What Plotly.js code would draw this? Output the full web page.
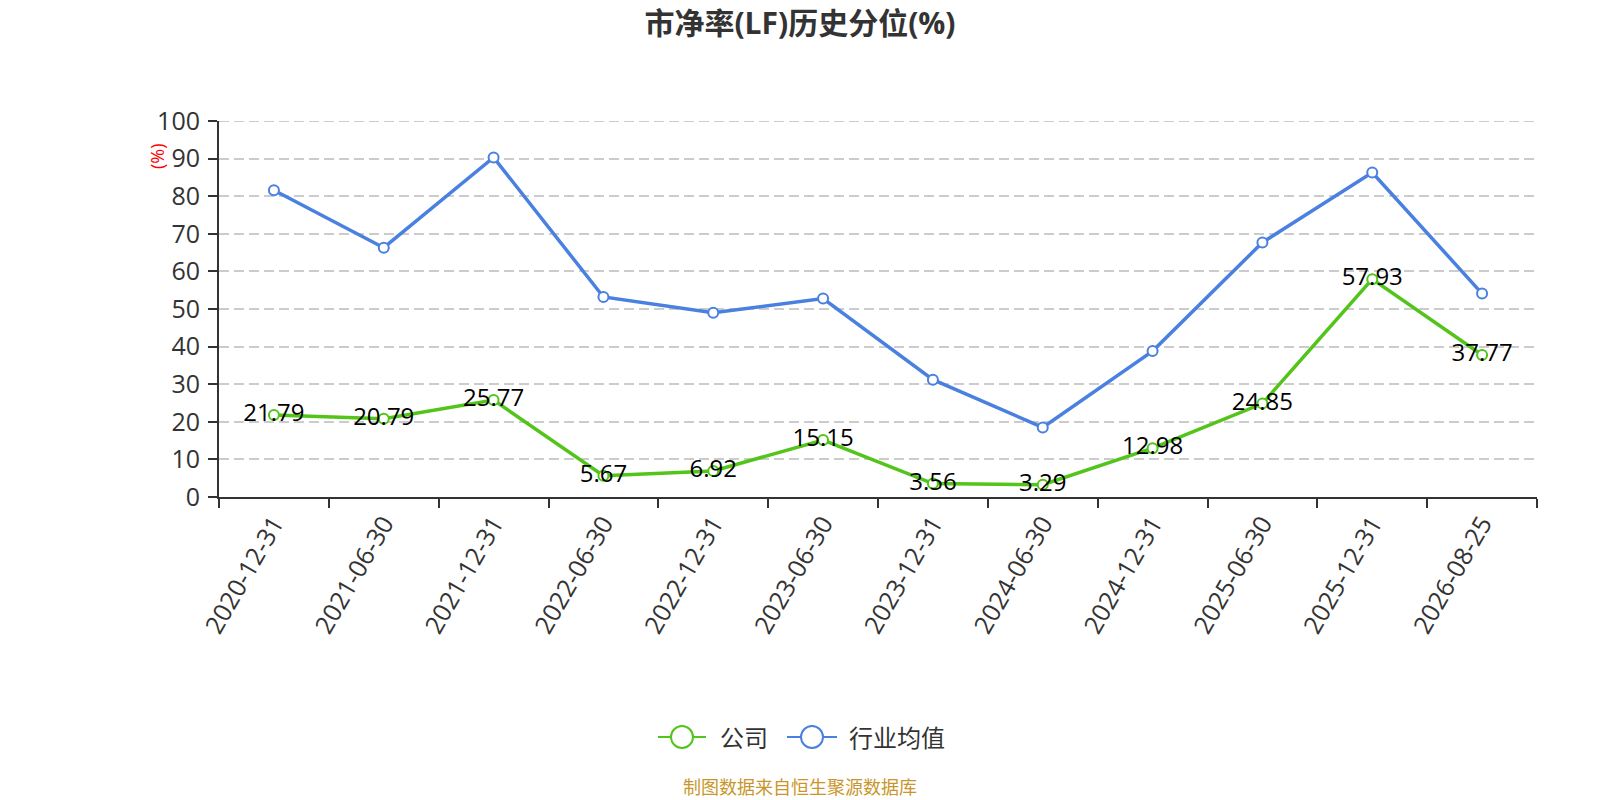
<!DOCTYPE html>
<html>
<head>
<meta charset="utf-8">
<script src="https://cdn.plot.ly/plotly-3.0.1.min.js"></script>
<style>
  html, body { margin: 0; padding: 0; background: #fff; }
  #plot { width: 1600px; height: 800px; }
</style>
</head>
<body>
<div id="plot"></div>
<script>
// reporting dates
var dates = ['2020-12-31', '2021-06-30', '2021-12-31', '2022-06-30', '2022-12-31', '2023-06-30',
             '2023-12-31', '2024-06-30', '2024-12-31', '2025-06-30', '2025-12-31', '2026-08-25']

// company PB percentile
var company = [21.79, 20.79, 25.77, 5.67, 6.92, 15.15, 3.56, 3.29, 12.98, 24.85, 57.93, 37.77]

// industry average
var industry = [81.6, 66.3, 90.3, 53.2, 49.0, 52.8, 31.2, 18.5, 38.8, 67.7, 86.3, 54.1]

var seriesNames = ['公司', '行业均值']
var yTicks = [0, 10, 20, 30, 40, 50, 60, 70, 80, 90, 100]

var fontFamily = '"Open Sans", "Noto Sans CJK SC", sans-serif'
var green = '#52c41a'
var blue = '#4a80df'
var colors = [green, blue]

// plot box in pixels, used to turn pixel spots into paper coords
var W = 1600, H = 800
var box = { l: 219, r: 63, t: 121, b: 303 }
function px(x) { return (x - box.l) / (W - box.l - box.r) }
function py(y) { return (H - box.b - y) / (H - box.t - box.b) }

function draw() {
  try {
    var traceCompany = {
      x: dates,
      y: company,
      type: 'scatter',
      mode: 'lines+markers+text',
      name: seriesNames[0],
      line: { color: green, width: 3.5 },
      marker: { symbol: 'circle', size: 10, color: '#fff', line: { color: green, width: 2 } },
      text: company.map(function (v) { return v.toFixed(2) }),
      textposition: 'middle center',
      textfont: { family: fontFamily, size: 24, color: '#000' },
      showlegend: false,
      hoverinfo: 'x+y'
    }

    var traceIndustry = {
      x: dates,
      y: industry,
      type: 'scatter',
      mode: 'lines+markers',
      name: seriesNames[1],
      line: { color: blue, width: 3.5 },
      marker: { symbol: 'circle', size: 10, color: '#fff', line: { color: blue, width: 2 } },
      showlegend: false,
      hoverinfo: 'x+y'
    }

    // industry first so the company labels sit on top
    var data = [traceIndustry, traceCompany]

    // top gridline at 100 (plotly skips it at the range edge)
    var shapes = [{
      type: 'line', xref: 'paper', yref: 'y',
      x0: 0, x1: 1, y0: 100, y1: 100,
      line: { color: '#cccccc', width: 1.8, dash: '10px,5px' },
      layer: 'below'
    }]

    var annotations = [
      {
        text: '(%)',
        xref: 'paper', yref: 'paper',
        x: px(157), y: py(156),
        xanchor: 'center', yanchor: 'middle',
        textangle: -90,
        showarrow: false,
        font: { family: fontFamily, size: 18, color: '#ff0000' }
      },
      {
        text: '制图数据来自恒生聚源数据库',
        xref: 'paper', yref: 'paper',
        x: px(800), y: py(787),
        xanchor: 'center', yanchor: 'middle',
        showarrow: false,
        font: { family: fontFamily, size: 18, color: '#c9962b' }
      }
    ]

    // legend drawn by hand: line, hollow circle, name
    var legendItems = [
      { x0: 658, x1: 706, tx: 718 },
      { x0: 787, x1: 837, tx: 847 }
    ]
    var legendY = 737
    legendItems.forEach(function (it, i) {
      shapes.push({
        type: 'line', xref: 'paper', yref: 'paper',
        x0: px(it.x0), x1: px(it.x1), y0: py(legendY), y1: py(legendY),
        line: { color: colors[i], width: 2 }
      })
      shapes.push({
        type: 'circle', xref: 'paper', yref: 'paper',
        xsizemode: 'pixel', ysizemode: 'pixel',
        xanchor: px((it.x0 + it.x1) / 2), yanchor: py(legendY),
        x0: -11, x1: 11, y0: -11, y1: 11,
        fillcolor: '#fff',
        line: { color: colors[i], width: 2 }
      })
      annotations.push({
        text: seriesNames[i],
        xref: 'paper', yref: 'paper',
        x: px(it.tx), y: py(legendY),
        xanchor: 'left', yanchor: 'middle',
        showarrow: false,
        font: { family: fontFamily, size: 24, color: '#333' }
      })
    })

    var layout = {
      width: W,
      height: H,
      paper_bgcolor: '#fff',
      plot_bgcolor: '#fff',
      font: { family: fontFamily, color: '#333' },
      margin: box,
      title: {
        text: '<b>市净率(LF)历史分位(%)</b>',
        font: { family: fontFamily, size: 30, color: '#333' },
        x: 0.5, xanchor: 'center',
        yref: 'container', y: 0.971, yanchor: 'middle'
      },
      showlegend: false,
      xaxis: {
        type: 'category',
        range: [-0.5, dates.length - 0.5],
        tickangle: -60,
        tickson: 'boundaries',
        ticks: 'outside',
        ticklen: 9,
        tickwidth: 2,
        tickcolor: '#333',
        showline: true,
        linecolor: '#333',
        linewidth: 2,
        showgrid: false,
        zeroline: false,
        tickfont: { family: fontFamily, size: 25, color: '#333' },
        fixedrange: true
      },
      yaxis: {
        range: [0, 100],
        tickvals: yTicks,
        ticks: 'outside',
        ticklen: 9,
        tickwidth: 2,
        tickcolor: '#333',
        ticklabelstandoff: 3,
        showline: true,
        linecolor: '#333',
        linewidth: 2,
        showgrid: true,
        gridcolor: '#cccccc',
        griddash: '10px,5px',
        gridwidth: 1.8,
        zeroline: false,
        tickfont: { family: fontFamily, size: 25, color: '#333' },
        fixedrange: true
      },
      shapes: shapes,
      annotations: annotations
    }

    Plotly.newPlot('plot', data, layout, { displayModeBar: false, responsive: false })
  } catch (err) {
    console.error(err)
  }
}

draw()
</script>
</body>
</html>
